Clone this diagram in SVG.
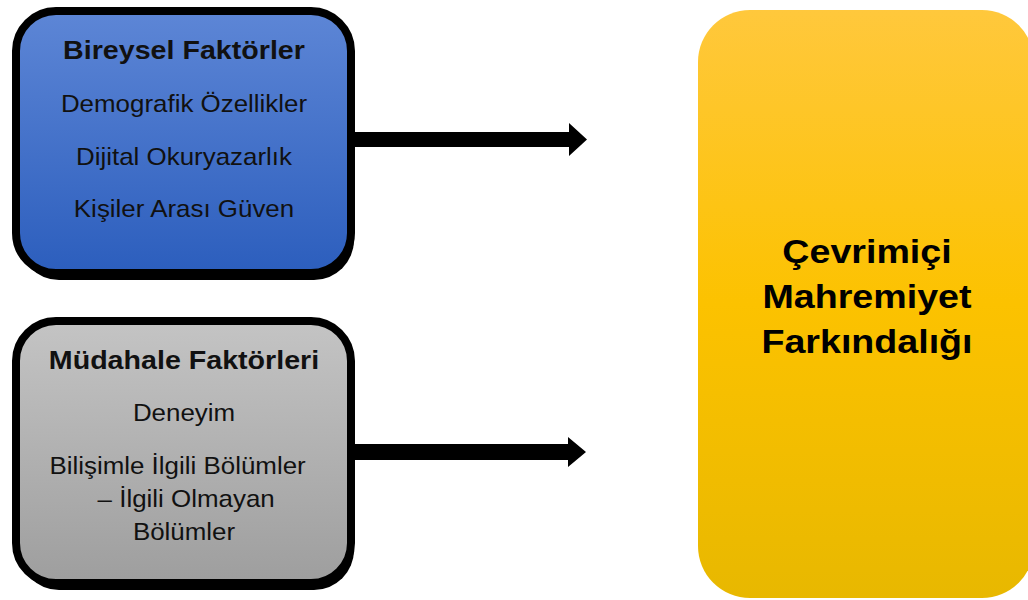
<svg xmlns="http://www.w3.org/2000/svg" width="1028" height="600" viewBox="0 0 1028 600">
<defs>
<linearGradient id="gBlue" x1="0" y1="0" x2="0" y2="1"><stop offset="0" stop-color="#5d86d6"/><stop offset="1" stop-color="#2c5ebd"/></linearGradient>
<linearGradient id="gGray" x1="0" y1="0" x2="0" y2="1"><stop offset="0" stop-color="#c4c4c4"/><stop offset="1" stop-color="#9e9e9e"/></linearGradient>
<linearGradient id="gYel" x1="0" y1="0" x2="0" y2="1"><stop offset="0" stop-color="#ffc83c"/><stop offset="0.5" stop-color="#fcc200"/><stop offset="1" stop-color="#e8b800"/></linearGradient>
<style>
.box{stroke:#000;stroke-width:8}
.sh{fill:#000}
.t{font-family:"Liberation Sans",Arial,sans-serif;font-size:24px;fill:#111;text-anchor:middle}
.h{font-weight:bold;font-size:26.5px}
.big{font-family:"Liberation Sans",Arial,sans-serif;font-weight:bold;font-size:33px;fill:#000;text-anchor:middle}
.arr{fill:#000}
</style>
</defs>
<rect width="1028" height="600" fill="#fff"/>
<g id="bireysel">
<rect class="sh" x="19" y="18" width="335" height="262" rx="40"/>
<rect class="box" x="16" y="11" width="335" height="262" rx="40" fill="url(#gBlue)"/>
<g transform="translate(184,0) scale(1.08,1)">
<text class="t h" x="0" y="59">Bireysel Faktörler</text>
<text class="t" x="0" y="112">Demografik Özellikler</text>
<text class="t" x="0" y="165">Dijital Okuryazarlık</text>
<text class="t" x="0" y="217">Kişiler Arası Güven</text>
</g>
</g>
<g id="mudahale">
<rect class="sh" x="19" y="328" width="335" height="262" rx="40"/>
<rect class="box" x="16" y="321" width="335" height="262" rx="40" fill="url(#gGray)"/>
<g transform="translate(184,0) scale(1.08,1)">
<text class="t h" x="0" y="369">Müdahale Faktörleri</text>
<text class="t" x="0" y="421">Deneyim</text>
<text class="t" x="-6" y="474">Bilişimle İlgili Bölümler</text>
<text class="t" x="2" y="507">– İlgili Olmayan</text>
<text class="t" x="0" y="540">Bölümler</text>
</g>
</g>
<g id="farkindalik">
<rect x="698" y="10" width="336" height="588" rx="52" fill="url(#gYel)"/>
<g transform="translate(867,0) scale(1.14,1)">
<text class="big" x="0" y="263">Çevrimiçi</text>
<text class="big" x="0" y="308">Mahremiyet</text>
<text class="big" x="0" y="353">Farkındalığı</text>
</g>
</g>
<g id="connectors">
<path class="arr" d="M355 132 H569 V123 L587 139.5 L569 156 V147 H355 Z"/>
<path class="arr" d="M355 444 H568 V437 L586 452 L568 467 V460 H355 Z"/>
</g>
</svg>
